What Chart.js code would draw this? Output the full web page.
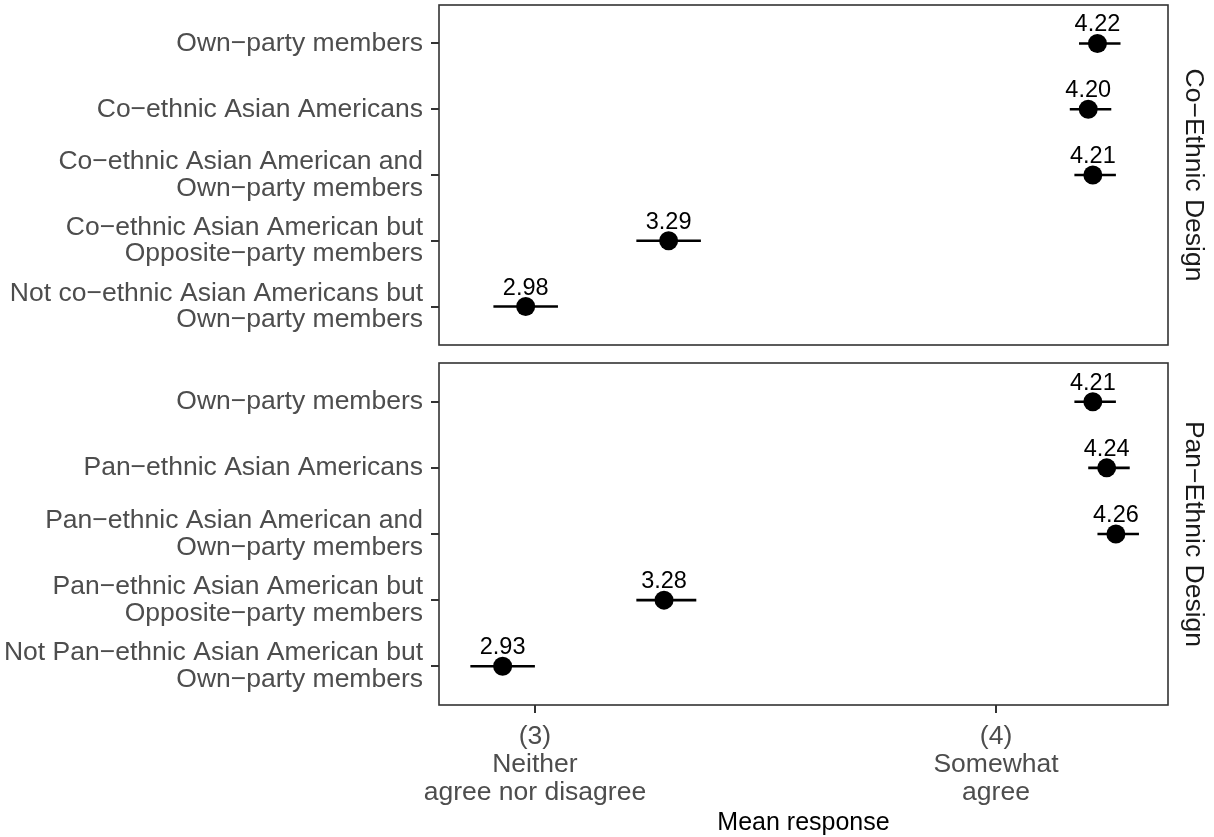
<!DOCTYPE html>
<html>
<head>
<meta charset="utf-8">
<script src="https://cdn.jsdelivr.net/npm/chart.js@4/dist/chart.umd.min.js"></script>
<style>
  body { margin: 0; background: #fff; }
  #wrap { position: relative; width: 1214px; height: 837px; }
  canvas { position: absolute; left: 0; }
</style>
</head>
<body>
<div id="wrap">
  <canvas id="panel_co" width="1214" height="352" style="top:0"></canvas>
  <canvas id="panel_pan" width="1214" height="481" style="top:356px"></canvas>
</div>
<script>
// facet titles
const stripCo = 'Co−Ethnic Design';
const stripPan = 'Pan−Ethnic Design';

// categories (top to bottom)
const coCategories = [
    ['Own−party members'],
    ['Co−ethnic Asian Americans'],
    ['Co−ethnic Asian American and', 'Own−party members'],
    ['Co−ethnic Asian American but', 'Opposite−party members'],
    ['Not co−ethnic Asian Americans but', 'Own−party members']
];
const panCategories = [
    ['Own−party members'],
    ['Pan−ethnic Asian Americans'],
    ['Pan−ethnic Asian American and', 'Own−party members'],
    ['Pan−ethnic Asian American but', 'Opposite−party members'],
    ['Not Pan−ethnic Asian American but', 'Own−party members']
];

// mean responses and confidence bounds
const coMeans = [4.22, 4.20, 4.21, 3.29, 2.98];
const coLower = [4.18, 4.16, 4.17, 3.22, 2.91];
const coUpper = [4.27, 4.25, 4.26, 3.36, 3.05];

const panMeans = [4.21, 4.24, 4.26, 3.28, 2.93];
const panLower = [4.17, 4.20, 4.22, 3.22, 2.86];
const panUpper = [4.26, 4.29, 4.31, 3.35, 3.00];

// x axis
const xTickValues = [3, 4];
const xTickLabels = [['(3)', 'Neither', 'agree nor disagree'], ['(4)', 'Somewhat', 'agree']];
const xTitle = 'Mean response';

const FONT = "'Liberation Sans', Arial, Helvetica, sans-serif";

function makePanel(canvasId, cats, means, lower, upper, strip, showX) {

    const points = means.map((m, i) => ({ x: m, y: i }));

    // panel border + error bars + value labels
    const panelPlugin = {
        id: 'panelDecor',
        beforeDatasetsDraw(chart) {
            const ctx = chart.ctx;
            const a = chart.chartArea;
            const xs = chart.scales.x;
            const ys = chart.scales.y;
            ctx.save();
            ctx.strokeStyle = '#333333';
            ctx.lineWidth = 1.6;
            ctx.strokeRect(a.left, a.top, a.right - a.left, a.bottom - a.top);

            ctx.strokeStyle = '#000';
            ctx.lineWidth = 2.6;
            means.forEach(function (m, i) {
                const yy = ys.getPixelForValue(i);
                ctx.beginPath();
                ctx.moveTo(xs.getPixelForValue(lower[i]), yy);
                ctx.lineTo(xs.getPixelForValue(upper[i]), yy);
                ctx.stroke();
            });
            ctx.restore();
        },
        afterDatasetsDraw(chart) {
            const ctx = chart.ctx;
            const xs = chart.scales.x;
            const ys = chart.scales.y;
            ctx.save();
            ctx.fillStyle = '#000';
            ctx.font = '23.5px ' + FONT;
            ctx.textAlign = 'center';
            ctx.textBaseline = 'alphabetic';
            means.forEach(function (m, i) {
                ctx.fillText(m.toFixed(2), xs.getPixelForValue(m), ys.getPixelForValue(i) - 12);
            });
            ctx.restore();
        }
    };

    const canvas = document.getElementById(canvasId);

    return new Chart(canvas.getContext('2d'), {
        type: 'scatter',
        data: {
            datasets: [{
                data: points,
                pointRadius: 9.5,
                pointHoverRadius: 9.5,
                backgroundColor: '#000',
                borderColor: '#000',
                borderWidth: 0
            }]
        },
        options: {
            responsive: false,
            animation: false,
            layout: {
                autoPadding: false,
                padding: showX ? { top: 7, bottom: 0, left: 0, right: 0 } : { top: 5, bottom: 7, left: 0, right: 0 }
            },
            plugins: {
                legend: { display: false },
                tooltip: { enabled: false }
            },
            scales: {
                x: {
                    type: 'linear',
                    display: showX,
                    min: 2.792,
                    max: 4.373,
                    afterBuildTicks: function (scale) {
                        scale.ticks = xTickValues.map(v => ({ value: v }));
                    },
                    afterFit: function (scale) {
                        if (showX) {
                            scale.height = 132;
                        }
                        scale.paddingLeft = 0;
                        scale.paddingRight = 0;
                    },
                    ticks: {
                        autoSkip: false,
                        maxRotation: 0,
                        padding: 10,
                        color: '#4D4D4D',
                        font: { family: FONT, size: 26.5, lineHeight: 1.05 },
                        callback: function (value) {
                            const k = xTickValues.indexOf(value);
                            return k >= 0 ? xTickLabels[k] : '';
                        }
                    },
                    grid: {
                        display: true,
                        drawOnChartArea: false,
                        drawTicks: true,
                        tickLength: 8,
                        color: '#333333',
                        lineWidth: 2
                    },
                    border: { display: false },
                    title: {
                        display: true,
                        text: xTitle,
                        color: '#000',
                        padding: { top: 0, bottom: 0 },
                        font: { family: FONT, size: 25, lineHeight: 1.1 }
                    }
                },
                y: {
                    type: 'linear',
                    position: 'left',
                    reverse: true,
                    min: -0.585,
                    max: cats.length - 1 + 0.585,
                    afterBuildTicks: function (scale) {
                        scale.ticks = cats.map((c, i) => ({ value: i }));
                    },
                    afterFit: function (scale) {
                        scale.width = 439;
                        scale.paddingTop = 0;
                        scale.paddingBottom = 0;
                    },
                    ticks: {
                        autoSkip: false,
                        padding: 8,
                        color: '#4D4D4D',
                        font: { family: FONT, size: 26.5, lineHeight: 1.0 },
                        callback: function (value) {
                            return cats[value] || '';
                        }
                    },
                    grid: {
                        display: true,
                        drawOnChartArea: false,
                        drawTicks: true,
                        tickLength: 8,
                        color: '#333333',
                        lineWidth: 2
                    },
                    border: { display: false }
                },
                strip: {
                    type: 'linear',
                    position: 'right',
                    display: true,
                    ticks: { display: false },
                    grid: { display: false, drawTicks: false },
                    border: { display: false },
                    afterFit: function (scale) {
                        scale.width = 46;
                        scale.paddingTop = 0;
                        scale.paddingBottom = 0;
                    },
                    title: {
                        display: true,
                        text: strip,
                        color: '#1A1A1A',
                        padding: { top: 5, bottom: 0 },
                        font: { family: FONT, size: 26.5, lineHeight: 1.2 }
                    }
                }
            }
        },
        plugins: [panelPlugin]
    });
}

makePanel('panel_co', coCategories, coMeans, coLower, coUpper, stripCo, false);
makePanel('panel_pan', panCategories, panMeans, panLower, panUpper, stripPan, true);
</script>
</body>
</html>
